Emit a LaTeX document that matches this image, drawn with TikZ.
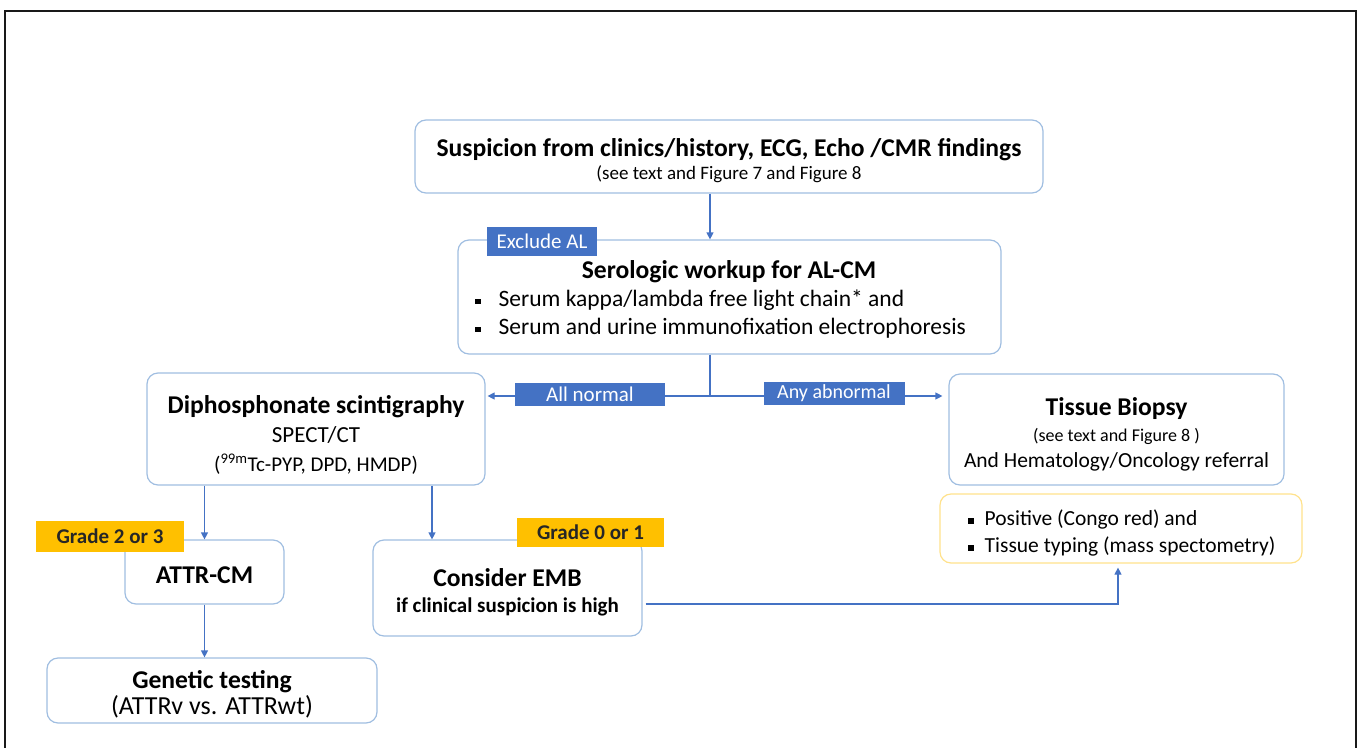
\documentclass[tikz,border=0pt]{standalone}
\usepackage{fontspec}
\setmainfont{Carlito}
\usetikzlibrary{arrows.meta}

\definecolor{boxline}{RGB}{160,190,225}
\definecolor{tabblue}{RGB}{68,114,196}
\definecolor{gradeorange}{RGB}{255,192,0}
\definecolor{yellowline}{RGB}{255,226,140}

\newcommand{\ttlfont}{\bfseries\fontsize{25.6}{27}\selectfont}
\newcommand{\sqb}{\rule[2pt]{5.5pt}{5.5pt}}

\tikzset{
  box/.style={draw=boxline, line width=1.2pt, rounded corners=11pt, fill=white, inner sep=0pt},
  txt/.style={align=center, inner sep=0pt},
  bluetab/.style={fill=tabblue, text=white, inner sep=0pt, font=\fontsize{21}{24}\selectfont},
  gradetab/.style={fill=gradeorange, text=black!85, inner sep=0pt, font=\bfseries\fontsize{21}{24}\selectfont},
  conn/.style={draw=tabblue, line width=1.2pt},
  arr/.style={conn, -{Triangle[length=7pt,width=7pt]}},
  outerframe/.style={draw=black!90, line width=1.8pt},
}

\begin{document}
\begin{tikzpicture}[x=1pt,y=1pt,yscale=-1,xscale=1]
\useasboundingbox (0,0) rectangle (1360,747);

%Frame
\draw[outerframe] (5,760) -- (5,11) -- (1356,11) -- (1356,760);

%Shape: top box
\node[box, minimum width=628, minimum height=73] (susp) at (729,156.5) {};
% Text Node
\node[txt, font=\fontsize{19}{23}\selectfont] (susptext) at (729,161) {{\ttlfont Suspicion from clinics/history, ECG, Echo /CMR findings}\\(see text and Figure 7 and Figure 8};

%Shape: serologic box
\node[box, minimum width=543, minimum height=114] (sero) at (729.5,297) {};
% Text Node
\node[txt, font=\ttlfont] (serotitle) at (729,272) {Serologic workup for AL-CM};
% Text Node
\node[anchor=west, align=left, inner sep=0pt, font=\fontsize{23.5}{28}\selectfont] (serolist) at (475,314) {\sqb\hspace{18pt}Serum kappa/lambda free light chain* and\\\sqb\hspace{18pt}Serum and urine immunofixation electrophoresis};

%Shape: scintigraphy box
\node[box, minimum width=338, minimum height=112] (diph) at (316,429) {};
% Text Node
\node[txt, font=\fontsize{21}{29}\selectfont] (diphtext) at (316,434.5) {{\ttlfont Diphosphonate scintigraphy}\\{\fontsize{23}{27}\selectfont SPECT/CT}\\(\textsuperscript{99m}Tc-PYP, DPD, HMDP)};

%Shape: biopsy box
\node[box, minimum width=335, minimum height=111] (tiss) at (1116.5,429.5) {};
% Text Node
\node[txt, font=\fontsize{21.5}{26}\selectfont] (tisstext) at (1116.5,434.5) {{\ttlfont Tissue Biopsy}\\{\fontsize{18}{26}\selectfont (see text and Figure 8 )}\\And Hematology/Oncology referral};

%Shape: typing box
\node[box, draw=yellowline, minimum width=362, minimum height=69] (pos) at (1121,528.5) {};
% Text Node
\node[anchor=west, align=left, inner sep=0pt, font=\fontsize{21.5}{27}\selectfont] (poslist) at (968,533) {\sqb\hspace{11pt}Positive (Congo red) and\\\sqb\hspace{11pt}Tissue typing (mass spectometry)};

%Shape: ATTR box
\node[box, minimum width=159, minimum height=64] (attr) at (204.5,572) {};
% Text Node
\node[txt, font=\ttlfont] (attrtext) at (204.5,575) {ATTR-CM};

%Shape: EMB box
\node[box, minimum width=269, minimum height=96] (emb) at (507.5,588) {};
% Text Node
\node[txt, font=\bfseries\fontsize{21}{26}\selectfont] (embtext) at (507.5,592.5) {{\ttlfont Consider EMB}\\if clinical suspicion is high};

%Shape: genetic box
\node[box, minimum width=330, minimum height=65] (gen) at (212,690.5) {};
% Text Node
\node[txt, font=\fontsize{26}{26}\selectfont] (gentext) at (212,694.5) {{\ttlfont Genetic testing}\\(ATTRv vs. ATTRwt)};

%Connectors
\coordinate (jn) at (710,396);
\coordinate (c2) at (432,0);
\coordinate (c3) at (1118,604);
\draw[arr] (susp.south -| jn) -- (sero.north -| jn);
\draw[conn] (sero.south -| jn) -- (jn);
\draw[arr, shorten >=2pt] (jn) -- (diph.east |- jn);
\draw[arr, shorten >=6pt] (jn) -- (tiss.west |- jn);
\draw[arr] (diph.south -| attr) -- (attr.north);
\draw[arr] (diph.south -| c2) -- (emb.north -| c2);
\draw[arr] (attr.south) -- (gen.north -| attr);
\draw[arr, shorten <=3pt, shorten >=4pt] (emb.east |- c3) -- (c3) -- (pos.south -| c3);

%Labels
\node[bluetab, minimum width=110, minimum height=29] (excl) at (542,241.5) {Exclude AL};
\node[bluetab, minimum width=150, minimum height=23] (allnorm) at (590,394.5) {All normal};
\node[bluetab, minimum width=141, minimum height=23, font=\fontsize{20}{24}\selectfont] (anyabn) at (834,393.5) {Any abnormal};
\node[gradetab, minimum width=148, minimum height=31] (g23) at (110,536.5) {Grade 2 or 3};
\node[gradetab, minimum width=147, minimum height=29] (g01) at (590.5,532.5) {Grade 0 or 1};

\end{tikzpicture}
\end{document}
